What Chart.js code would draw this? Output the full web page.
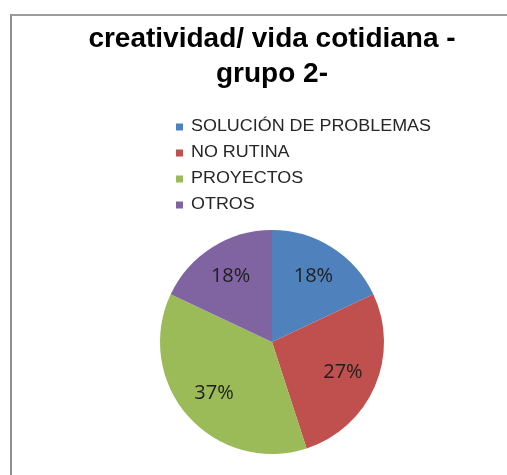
<!DOCTYPE html>
<html>
<head>
<meta charset="utf-8">
<script src="https://cdn.jsdelivr.net/npm/chart.js@4.4.1/dist/chart.umd.min.js"></script>
<style>
    html, body { margin: 0; padding: 0; background: #fff; }
    #frame {
        position: absolute; left: 10px; top: 14px; width: 497px; height: 461px;
        border-left: 2px solid #8e8e8e; border-top: 2px solid #9c9c9c;
    }
    #wrap { position: absolute; left: 0; top: 0; width: 507px; height: 475px; }
</style>
</head>
<body>
<div id="frame"></div>
<div id="wrap"><canvas id="myChart"></canvas></div>
<script>
// datos del gráfico
const titleLines = ['creatividad/ vida cotidiana -', 'grupo 2-'];
const categories = ['SOLUCIÓN DE PROBLEMAS', 'NO RUTINA', 'PROYECTOS', 'OTROS'];
const percentages = [18, 27, 37, 18];
const sliceColors = ['#4f81bd', '#c0504d', '#9bbb59', '#8064a2'];

document.addEventListener('DOMContentLoaded', () => {
    // leyenda vertical dibujada a mano, encima del pastel
    const stackedLegend = {
        id: 'stackedLegend',
        afterDraw(chart) {
            const ctx = chart.ctx;
            const area = chart.chartArea;
            const x0 = area.left + 139;
            const y0 = area.top - 103;
            ctx.save();
            ctx.font = '16px "Liberation Sans", Arial, sans-serif';
            ctx.textBaseline = 'middle';
            chart.data.labels.forEach((label, i) => {
                const y = y0 + i * 26;
                ctx.fillStyle = chart.data.datasets[0].backgroundColor[i];
                ctx.fillRect(x0, y - 3.5, 7, 7);
                ctx.save();
                ctx.translate(x0 + 15, y);
                ctx.scale(1.12, 1);
                ctx.fillStyle = '#262626';
                ctx.fillText(label, 0, 0);
                ctx.restore();
            });
            ctx.restore();
        }
    };

    // porcentajes dentro de cada sector
    const sliceLabels = {
        id: 'sliceLabels',
        afterDatasetsDraw(chart) {
            const ctx = chart.ctx;
            const meta = chart.getDatasetMeta(0);
            const values = chart.data.datasets[0].data;
            ctx.save();
            ctx.font = '20px "Open Sans", sans-serif';
            ctx.fillStyle = '#1e1e1e';
            ctx.textAlign = 'center';
            ctx.textBaseline = 'middle';
            meta.data.forEach((arc, i) => {
                const p = arc.getProps(['x', 'y', 'startAngle', 'endAngle', 'outerRadius'], true);
                const mid = (p.startAngle + p.endAngle) / 2;
                const r = p.outerRadius * 0.69;
                ctx.fillText(values[i] + '%', p.x + Math.cos(mid) * r, p.y + Math.sin(mid) * r);
            });
            ctx.restore();
        }
    };

    const ctx = document.getElementById('myChart').getContext('2d');
    new Chart(ctx, {
        type: 'pie',
        data: {
            labels: categories,
            datasets: [{
                data: percentages,
                backgroundColor: sliceColors,
                borderWidth: 0
            }]
        },
        options: {
            responsive: true,
            maintainAspectRatio: false,
            animation: false,
            layout: { padding: { left: 37, right: 0, top: 0, bottom: 21 } },
            plugins: {
                legend: { display: false },
                tooltip: { enabled: false },
                title: {
                    display: true,
                    text: titleLines,
                    color: '#000',
                    font: { family: '"Liberation Sans", Arial, sans-serif', size: 28, weight: 'bold', lineHeight: 1.25 },
                    padding: { top: 22, bottom: 138 }
                }
            }
        },
        plugins: [stackedLegend, sliceLabels]
    });
});
</script>
</body>
</html>
